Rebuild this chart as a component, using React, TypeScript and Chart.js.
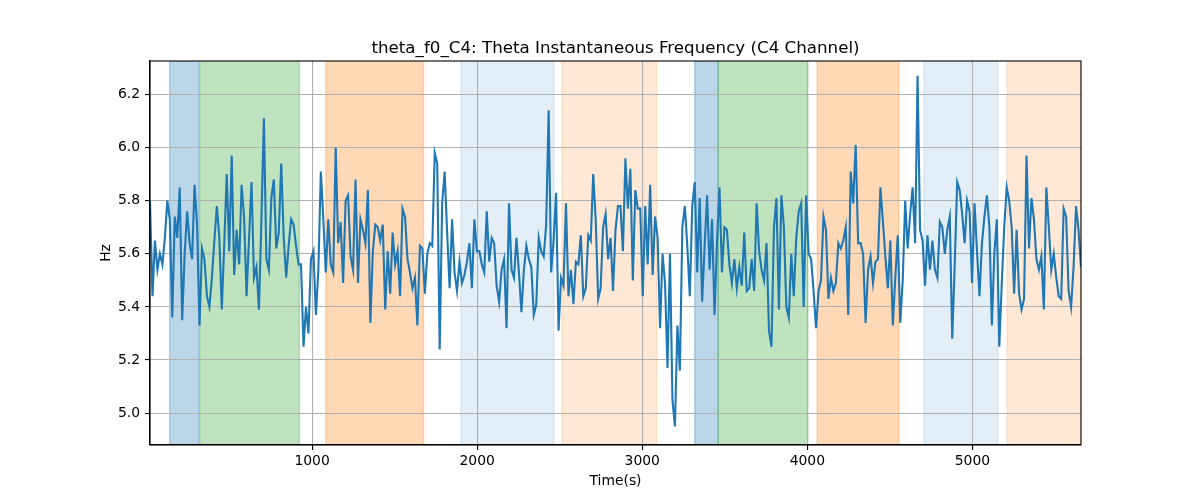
import React, { useEffect, useRef } from 'react';
import { Chart, registerables, Plugin } from 'chart.js';

Chart.register(...registerables);

// Sampling of the signal (s)
const timeStart = 18;
const timeStep = 15;

// Instantaneous theta frequency, Hz
const freqHz: number[] = [
  5.80, 5.44, 5.65, 5.54, 5.60, 5.56, 5.66, 5.80, 5.73, 5.36,
  5.74, 5.66, 5.85, 5.35, 5.60, 5.76, 5.64, 5.58, 5.86, 5.71,
  5.33, 5.62, 5.58, 5.44, 5.40, 5.51, 5.65, 5.78, 5.66, 5.39,
  5.64, 5.90, 5.61, 5.97, 5.52, 5.69, 5.56, 5.86, 5.74, 5.44,
  5.66, 5.87, 5.51, 5.55, 5.39, 5.73, 6.11, 5.58, 5.54,
  5.81, 5.88, 5.62, 5.68, 5.94, 5.66, 5.51, 5.63, 5.73, 5.71,
  5.63, 5.56, 5.56, 5.25, 5.40, 5.30, 5.58, 5.61, 5.37, 5.54,
  5.91, 5.73, 5.53, 5.73, 5.56, 5.53, 6.00, 5.64, 5.72, 5.49,
  5.80, 5.82, 5.59, 5.54, 5.88, 5.49, 5.73, 5.69, 5.64, 5.84,
  5.34, 5.61, 5.71, 5.70, 5.65, 5.71, 5.39,
  5.61, 5.45, 5.68, 5.56, 5.61, 5.44, 5.77, 5.74, 5.58, 5.53,
  5.47, 5.51, 5.33, 5.63, 5.62, 5.45, 5.60, 5.64, 5.63, 5.98,
  5.94, 5.24, 5.79, 5.91, 5.68, 5.47, 5.73, 5.53, 5.46, 5.57,
  5.49, 5.52, 5.57, 5.64, 5.47, 5.73, 5.61, 5.61, 5.56, 5.53,
  5.76, 5.57, 5.66, 5.64, 5.48, 5.42, 5.54,
  5.58, 5.32, 5.79, 5.54, 5.51, 5.66, 5.53, 5.38, 5.54, 5.63,
  5.58, 5.55, 5.37, 5.41, 5.66, 5.61, 5.59, 5.71, 6.14, 5.53,
  5.65, 5.83, 5.31, 5.51, 5.48, 5.79, 5.44, 5.54, 5.41, 5.57,
  5.56, 5.67, 5.44, 5.47, 5.67, 5.65, 5.90, 5.73, 5.43, 5.47,
  5.70, 5.75, 5.58, 5.66, 5.46, 5.69, 5.78,
  5.78, 5.61, 5.96, 5.77, 5.92, 5.50, 5.84, 5.77, 5.77, 5.44,
  5.78, 5.56, 5.86, 5.52, 5.74, 5.66, 5.32, 5.60, 5.49, 5.17,
  5.60, 5.05, 4.95, 5.33, 5.16, 5.70, 5.78, 5.63, 5.44, 5.78,
  5.87, 5.53, 5.81, 5.42, 5.63, 5.82, 5.54, 5.73, 5.37, 5.65,
  5.85, 5.53, 5.70, 5.69, 5.56, 5.49, 5.58, 5.47,
  5.55, 5.48, 5.68, 5.46, 5.47, 5.58, 5.46, 5.79, 5.61, 5.54,
  5.50, 5.64, 5.31, 5.25, 5.70, 5.81, 5.39, 5.82, 5.70, 5.40,
  5.36, 5.60, 5.44, 5.66, 5.76, 5.79, 5.40, 5.82, 5.60, 5.58,
  5.46, 5.32, 5.46, 5.50, 5.74, 5.69, 5.43, 5.51, 5.46, 5.49,
  5.64, 5.62, 5.65, 5.70, 5.37, 5.91, 5.79,
  6.01, 5.64, 5.64, 5.60, 5.34, 5.54, 5.59, 5.49, 5.57, 5.58,
  5.85, 5.72, 5.59, 5.47, 5.65, 5.33, 5.51, 5.67, 5.34, 5.50,
  5.80, 5.62, 5.75, 5.85, 5.64, 6.27, 5.69, 5.65, 5.48, 5.67,
  5.54, 5.65, 5.54, 5.51, 5.72, 5.70, 5.60, 5.69, 5.74, 5.28,
  5.56, 5.87, 5.84, 5.75, 5.64, 5.80, 5.76,
  5.49, 5.79, 5.61, 5.44, 5.64, 5.74, 5.82, 5.70, 5.33, 5.60,
  5.73, 5.25, 5.49, 5.70, 5.85, 5.80, 5.70, 5.45, 5.69, 5.45,
  5.39, 5.43, 5.97, 5.62, 5.81, 5.73, 5.58, 5.54, 5.59, 5.39,
  5.85, 5.70, 5.54, 5.60, 5.51, 5.44, 5.43, 5.77, 5.74, 5.46,
  5.40, 5.55, 5.78, 5.69, 5.55,
];

// Shaded epochs (start / end in s) and their kind
const spanStart = [137, 319, 1083, 1901, 2513, 3318, 3460, 4060, 4707, 5210];
const spanEnd = [313, 923, 1675, 2465, 3089, 3460, 4002, 4554, 5154, 5658];
const spanKind = ['A', 'B', 'C', 'D', 'E', 'A', 'B', 'C', 'D', 'E'];

const yTicks = [5.0, 5.2, 5.4, 5.6, 5.8, 6.0, 6.2];
const xTicks = [1000, 2000, 3000, 4000, 5000];

const xMin = 18;
const xMax = 5658;
const yMin = 4.88;
const yMax = 6.326;

const spanColor: Record<string, string> = {
  A: 'rgba(31,119,180,0.3)',
  B: 'rgba(44,160,44,0.3)',
  C: 'rgba(255,127,14,0.3)',
  D: 'rgba(31,119,180,0.12)',
  E: 'rgba(255,127,14,0.17)',
};

const FONT = "'DejaVu Sans', sans-serif";

const spansPlugin: Plugin<'line'> = {
  id: 'spans',
  beforeDraw(chart) {
    const { ctx, chartArea, scales } = chart;
    const x = scales.x;
    ctx.save();
    ctx.beginPath();
    ctx.rect(chartArea.left, chartArea.top, chartArea.right - chartArea.left, chartArea.bottom - chartArea.top);
    ctx.clip();
    spanStart.forEach((s, i) => {
      const x0 = x.getPixelForValue(s);
      const x1 = x.getPixelForValue(spanEnd[i]);
      const c = spanColor[spanKind[i]];
      ctx.fillStyle = c;
      ctx.fillRect(x0, chartArea.top, x1 - x0, chartArea.bottom - chartArea.top);
      ctx.strokeStyle = c;
      ctx.lineWidth = 1.4;
      ctx.beginPath();
      ctx.moveTo(x0, chartArea.top);
      ctx.lineTo(x0, chartArea.bottom);
      ctx.moveTo(x1, chartArea.top);
      ctx.lineTo(x1, chartArea.bottom);
      ctx.stroke();
    });
    ctx.restore();
  },
};

const framePlugin: Plugin<'line'> = {
  id: 'frame',
  afterDraw(chart) {
    const { ctx, chartArea } = chart;
    ctx.save();
    ctx.strokeStyle = '#000';
    ctx.lineWidth = 1.1;
    ctx.strokeRect(chartArea.left, chartArea.top, chartArea.right - chartArea.left, chartArea.bottom - chartArea.top);

    ctx.fillStyle = '#000';
    ctx.textAlign = 'center';
    ctx.font = `16.7px ${FONT}`;
    ctx.textBaseline = 'alphabetic';
    ctx.fillText(
      'theta_f0_C4: Theta Instantaneous Frequency (C4 Channel)',
      (chartArea.left + chartArea.right) / 2,
      chartArea.top - 8.5
    );

    ctx.font = `13.9px ${FONT}`;
    ctx.textBaseline = 'middle';
    ctx.fillText('Time(s)', (chartArea.left + chartArea.right) / 2, 481);

    ctx.translate(106, (chartArea.top + chartArea.bottom) / 2);
    ctx.rotate(-Math.PI / 2);
    ctx.fillText('Hz', 0, 0);
    ctx.restore();
  },
};

const App: React.FC = () => {
  const canvasRef = useRef<HTMLCanvasElement | null>(null);

  useEffect(() => {
    document.body.style.margin = '0';
    const canvas = canvasRef.current;
    if (!canvas) return;

    const points = freqHz.map((v, i) => ({ x: timeStart + i * timeStep, y: v }));

    const chart = new Chart(canvas, {
      type: 'line',
      data: {
        datasets: [{
          data: points,
          borderColor: '#1f77b4',
          borderWidth: 2.1,
          pointRadius: 0,
          tension: 0,
          fill: false,
        }],
      },
      options: {
        animation: false,
        responsive: true,
        maintainAspectRatio: false,
        layout: { padding: { top: 61, right: 119, left: 0, bottom: 0 } },
        plugins: {
          legend: { display: false },
          title: { display: false },
          tooltip: { enabled: false },
        },
        scales: {
          x: {
            type: 'linear',
            min: xMin,
            max: xMax,
            afterBuildTicks: (axis) => { axis.ticks = xTicks.map(v => ({ value: v })); },
            afterFit: (scale) => { scale.height = 55; },
            grid: { color: '#b0b0b0', lineWidth: 1.1, tickLength: 5, tickColor: '#000', tickWidth: 1.1 },
            border: { display: true, color: '#000', width: 1.1 },
            ticks: {
              color: '#000',
              font: { family: FONT, size: 13.9 },
              padding: 3,
              maxRotation: 0,
              autoSkip: false,
              callback: (v) => String(v),
            },
          },
          y: {
            type: 'linear',
            min: yMin,
            max: yMax,
            afterBuildTicks: (axis) => { axis.ticks = yTicks.map(v => ({ value: v })); },
            afterFit: (scale) => { scale.width = 150; },
            grid: { color: '#b0b0b0', lineWidth: 1.1, tickLength: 5, tickColor: '#000', tickWidth: 1.1 },
            border: { display: true, color: '#000', width: 1.1 },
            ticks: {
              color: '#000',
              font: { family: FONT, size: 13.9 },
              padding: 5,
              autoSkip: false,
              callback: (v) => Number(v).toFixed(1),
            },
          },
        },
      },
      plugins: [spansPlugin, framePlugin],
    });

    return () => chart.destroy();
  }, []);

  return (
    <div style={{ width: 1200, height: 500, position: 'relative', background: '#fff' }}>
      <canvas ref={canvasRef} />
    </div>
  );
};

export default App;
